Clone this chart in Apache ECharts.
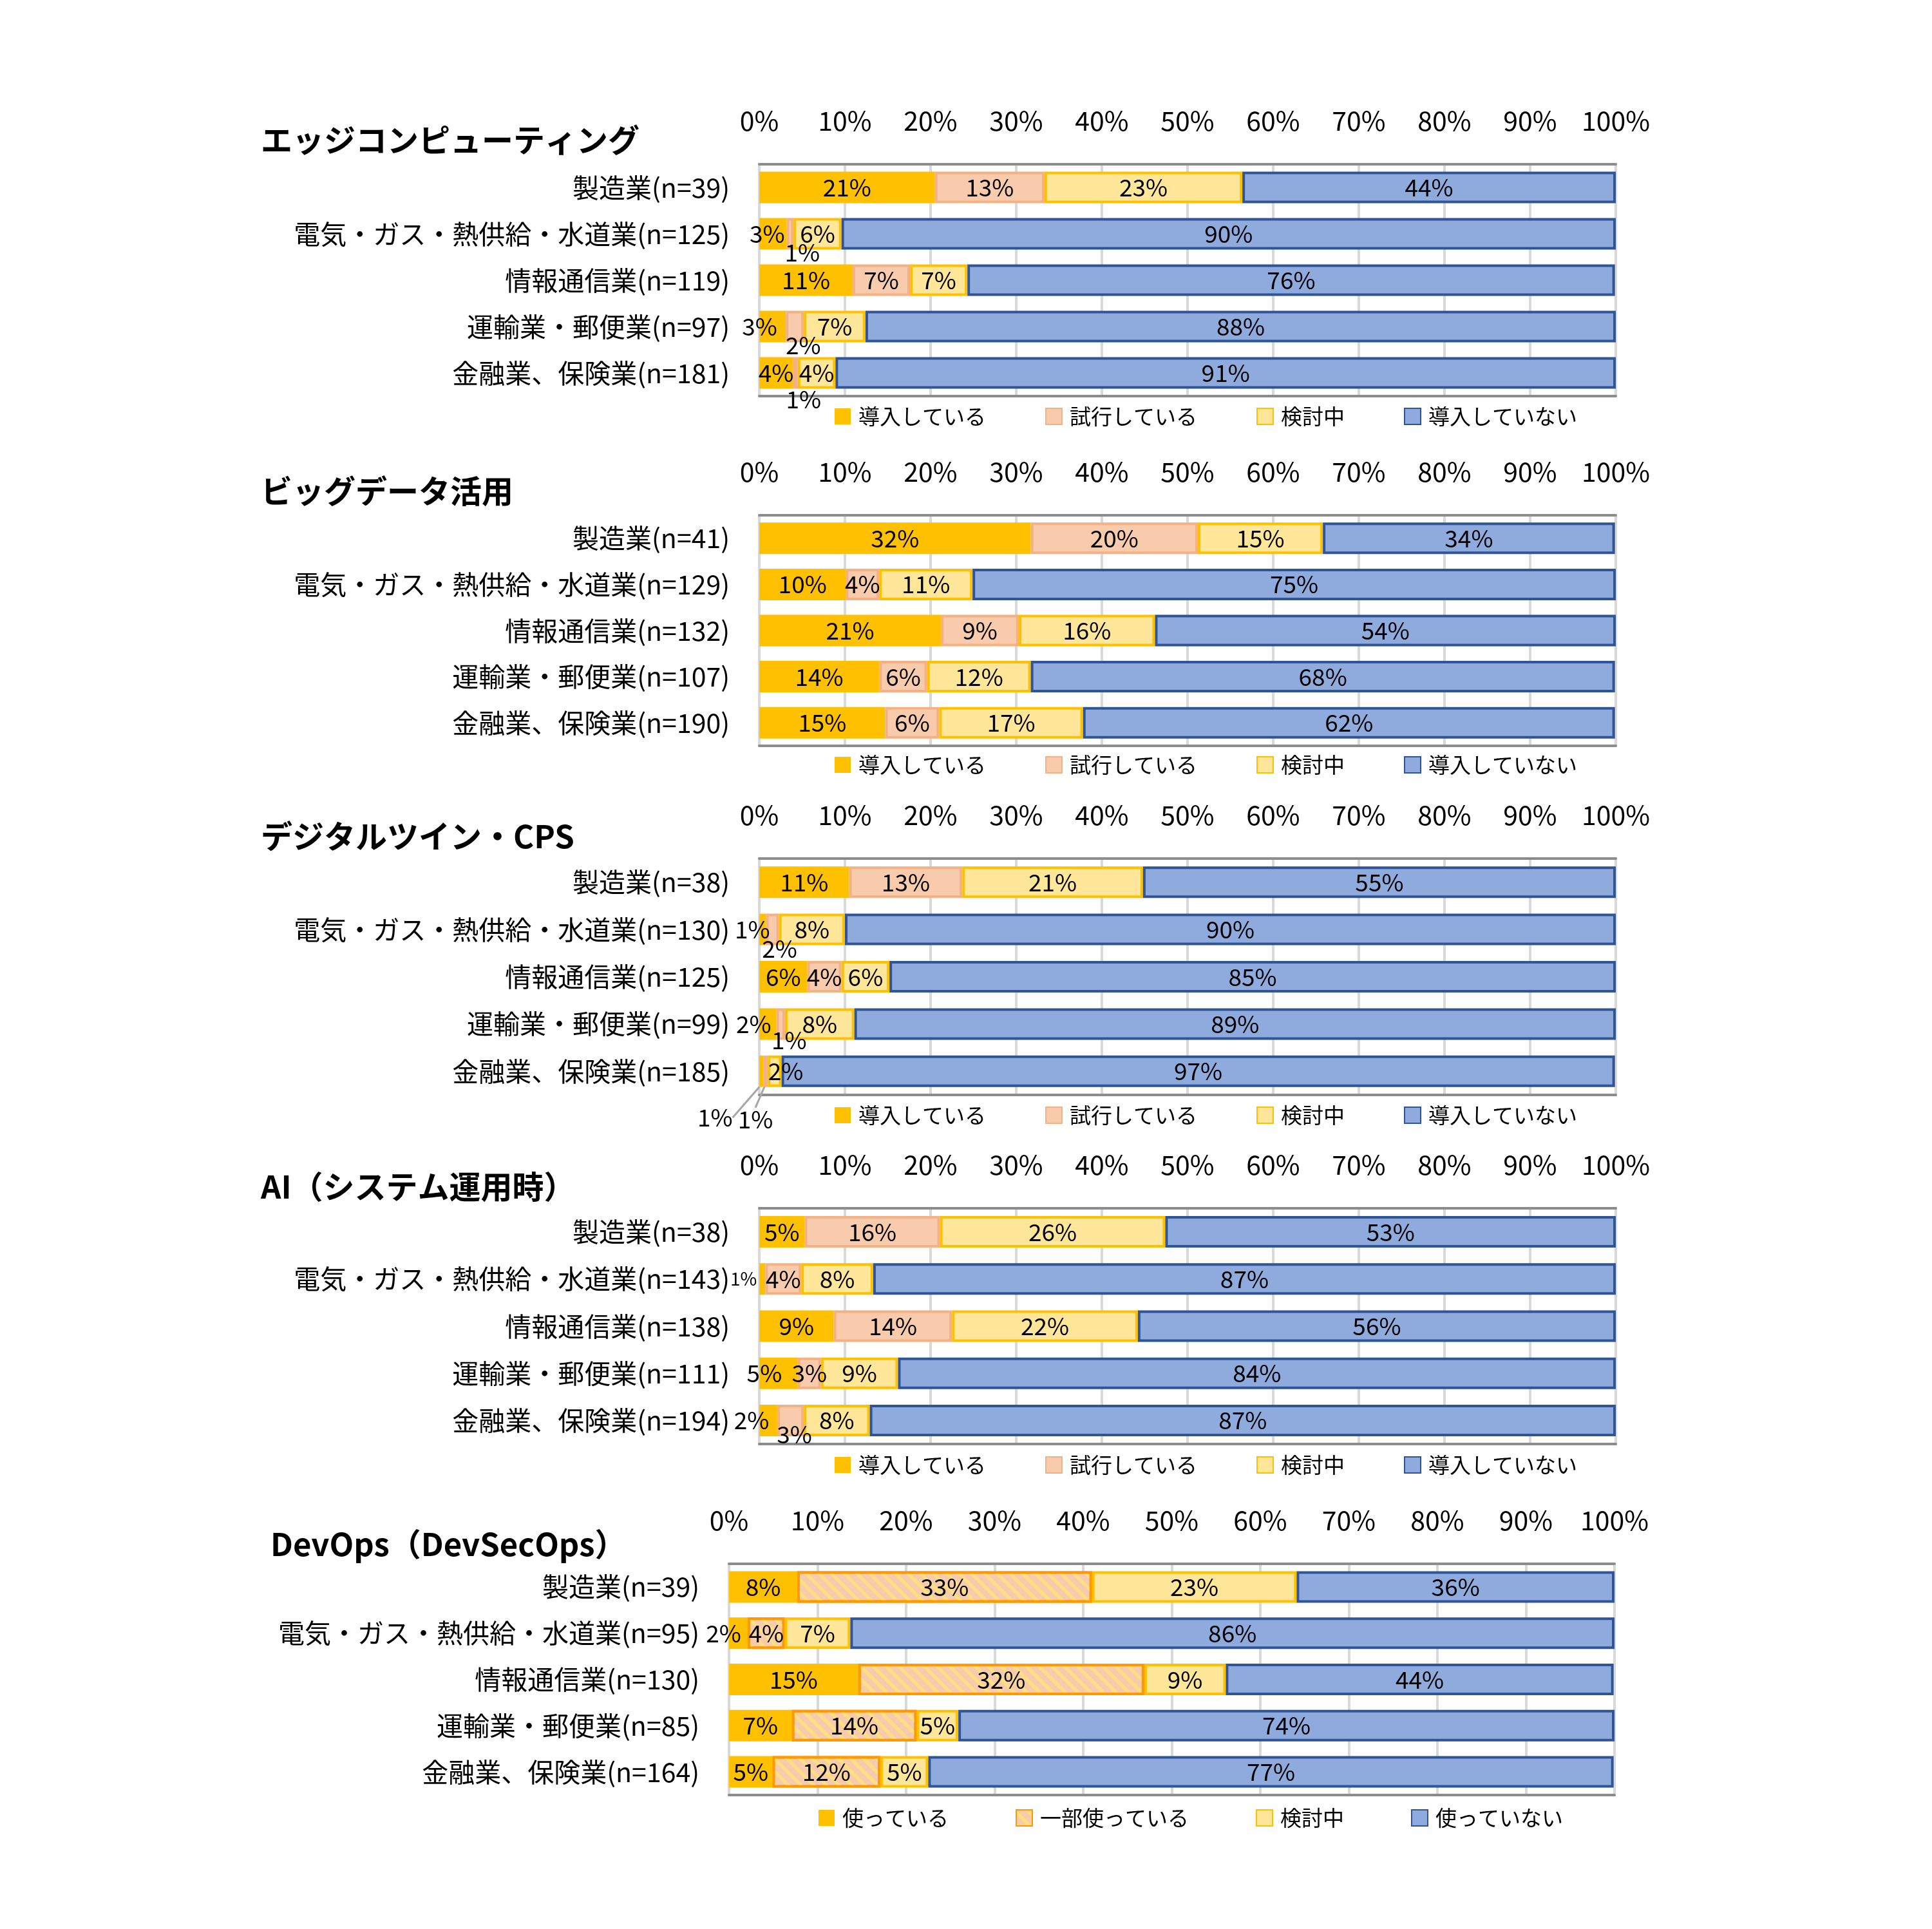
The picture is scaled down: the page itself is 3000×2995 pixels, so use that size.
<!DOCTYPE html>
<html><head><meta charset="utf-8">
<script src="https://cdn.jsdelivr.net/npm/echarts@6/dist/echarts.min.js"></script>
<style>html,body{margin:0;padding:0;background:#fff}#c{width:3000px;height:2995px}</style>
</head><body><div id="c"></div>
<script>
// ---------- data ----------
const panelTitles = ['エッジコンピューティング', 'ビッグデータ活用', 'デジタルツイン・CPS', 'AI（システム運用時）', 'DevOps（DevSecOps）'];
const tickLabels = ['0%', '10%', '20%', '30%', '40%', '50%', '60%', '70%', '80%', '90%', '100%'];
const adoptNames = ['導入している', '試行している', '検討中', '導入していない'];
const useNames = ['使っている', '一部使っている', '検討中', '使っていない'];

const edgeCategories = ['製造業(n=39)', '電気・ガス・熱供給・水道業(n=125)', '情報通信業(n=119)', '運輸業・郵便業(n=97)', '金融業、保険業(n=181)'];
const edgeAdopted  = [20.5, 3.2, 10.9, 3.1, 3.9];
const edgeTrial    = [12.8, 0.8, 6.7, 2.1, 0.6];
const edgeConsider = [23.1, 5.6, 6.7, 7.2, 4.4];
const edgeNot      = [43.6, 90.4, 75.6, 87.6, 91.1];

const bigDataCategories = ['製造業(n=41)', '電気・ガス・熱供給・水道業(n=129)', '情報通信業(n=132)', '運輸業・郵便業(n=107)', '金融業、保険業(n=190)'];
const bigDataAdopted  = [31.7, 10.1, 21.2, 14.0, 14.7];
const bigDataTrial    = [19.5, 3.9, 9.1, 5.6, 6.3];
const bigDataConsider = [14.6, 10.9, 15.9, 12.1, 16.8];
const bigDataNot      = [34.1, 75.1, 53.8, 68.2, 62.1];

const twinCategories = ['製造業(n=38)', '電気・ガス・熱供給・水道業(n=130)', '情報通信業(n=125)', '運輸業・郵便業(n=99)', '金融業、保険業(n=185)'];
const twinAdopted  = [10.5, 0.8, 5.6, 2.0, 0.5];
const twinTrial    = [13.2, 1.5, 4.0, 1.0, 0.5];
const twinConsider = [21.1, 7.7, 5.6, 8.1, 1.6];
const twinNot      = [55.2, 90.0, 84.8, 88.9, 97.3];

const aiCategories = ['製造業(n=38)', '電気・ガス・熱供給・水道業(n=143)', '情報通信業(n=138)', '運輸業・郵便業(n=111)', '金融業、保険業(n=194)'];
const aiAdopted  = [5.3, 0.7, 8.7, 4.5, 2.1];
const aiTrial    = [15.8, 4.2, 13.8, 2.7, 3.1];
const aiConsider = [26.3, 8.4, 21.7, 9.0, 7.7];
const aiNot      = [52.6, 86.7, 55.8, 83.8, 87.1];

const devopsCategories = ['製造業(n=39)', '電気・ガス・熱供給・水道業(n=95)', '情報通信業(n=130)', '運輸業・郵便業(n=85)', '金融業、保険業(n=164)'];
const devopsUsing    = [7.7, 2.1, 14.6, 7.1, 4.9];
const devopsPartial  = [33.3, 4.2, 32.3, 14.1, 12.2];
const devopsConsider = [23.1, 7.4, 9.2, 4.7, 5.4];
const devopsNot      = [35.9, 86.3, 43.8, 74.1, 77.4];

// ---------- layout / style ----------
const FONT = 'Noto Sans CJK JP';
const layout = [
  {left: 1179, right: 491, top: 255, height: 360, titleLeft: 405, titleTop: 193, legendLeft: 1296, legendTop: 630, legendGap: 92},
  {left: 1179, right: 491, top: 800, height: 358, titleLeft: 405, titleTop: 738, legendLeft: 1296, legendTop: 1171, legendGap: 92},
  {left: 1179, right: 491, top: 1333, height: 367, titleLeft: 405, titleTop: 1274, legendLeft: 1296, legendTop: 1715, legendGap: 92},
  {left: 1179, right: 491, top: 1876, height: 366, titleLeft: 405, titleTop: 1818, legendLeft: 1296, legendTop: 2258, legendGap: 92},
  {left: 1132, right: 493, top: 2428, height: 359, titleLeft: 420, titleTop: 2373, legendLeft: 1271, legendTop: 2806, legendGap: 104}
];
const barStyles = [
  {color: '#FFC000', borderColor: '#FFC000', borderWidth: 0},
  {color: '#F8CBAD', borderColor: '#F4B183', borderWidth: 4},
  {color: '#FFE699', borderColor: '#FFC000', borderWidth: 4},
  {color: '#8FAADC', borderColor: '#2F5597', borderWidth: 4}
];
const partialStyle = {
  color: '#F8CBAD', borderColor: '#FF9900', borderWidth: 4,
  decal: {symbol: 'rect', symbolSize: 1, color: 'rgba(255,224,125,0.95)', dashArrayX: [1, 0], dashArrayY: [5, 9], rotation: Math.PI / 4}
};
// label nudges: "panel-status-row": [dx, dy, leaderLine, fontSize]
const labelTweaks = {
  '0-0-1': [-9, 0], '0-1-1': [19, 29], '0-0-3': [-20, 0], '0-1-3': [13, 29], '0-1-4': [13, 41, true],
  '2-0-1': [-16, 0], '2-1-1': [11, 30], '2-0-3': [-22, 0], '2-1-3': [13, 25],
  '2-0-4': [-72, 72, true], '2-1-4': [-16, 75, true], '2-2-4': [17, 0],
  '3-0-1': [-29, 0, false, 28], '3-0-3': [-22, 0], '3-0-4': [-26, 0], '3-1-4': [6, 22],
  '4-0-1': [-23, 0]
};

const panels = [
  {cats: edgeCategories, names: adoptNames, values: [edgeAdopted, edgeTrial, edgeConsider, edgeNot]},
  {cats: bigDataCategories, names: adoptNames, values: [bigDataAdopted, bigDataTrial, bigDataConsider, bigDataNot]},
  {cats: twinCategories, names: adoptNames, values: [twinAdopted, twinTrial, twinConsider, twinNot]},
  {cats: aiCategories, names: adoptNames, values: [aiAdopted, aiTrial, aiConsider, aiNot]},
  {cats: devopsCategories, names: useNames, values: [devopsUsing, devopsPartial, devopsConsider, devopsNot]}
];

const option = {
  animation: false,
  backgroundColor: '#fff',
  textStyle: {fontFamily: FONT, color: '#000'},
  title: [], legend: [], grid: [], xAxis: [], yAxis: [], series: []
};

panels.forEach((pn, p) => {
  const L = layout[p];
  option.title.push({
    text: panelTitles[p], left: L.titleLeft, top: L.titleTop, padding: 0,
    textStyle: {fontFamily: FONT, fontSize: 49, fontWeight: 'bold', color: '#000'}
  });
  option.legend.push({
    data: pn.names, left: L.legendLeft, top: L.legendTop, padding: 0,
    itemGap: L.legendGap, itemWidth: 25, itemHeight: 25, icon: 'rect', selectedMode: false,
    textStyle: {fontFamily: FONT, fontSize: 33, color: '#000', padding: [0, 0, 0, 7]}
  });
  option.grid.push({
    left: L.left, right: L.right, top: L.top, height: L.height,
    show: true, borderColor: '#D9D9D9', borderWidth: 4, backgroundColor: 'transparent'
  });
  option.xAxis.push({
    gridIndex: p, type: 'value', position: 'top', min: 0, max: 100, interval: 10,
    axisLine: {show: true, lineStyle: {color: '#8C8C8C', width: 4}},
    axisTick: {show: false},
    splitLine: {show: true, lineStyle: {color: '#D9D9D9', width: 4}},
    axisLabel: {margin: 47, fontSize: 41, color: '#000', fontFamily: FONT,
      formatter: v => tickLabels[Math.round(v / 10)]}
  });
  option.xAxis.push({
    gridIndex: p, type: 'value', position: 'bottom', min: 0, max: 100,
    axisLine: {show: true, lineStyle: {color: '#8C8C8C', width: 4}},
    axisTick: {show: false}, splitLine: {show: false}, axisLabel: {show: false}
  });
  option.yAxis.push({
    gridIndex: p, type: 'category', data: pn.cats, inverse: true,
    axisLine: {show: false}, axisTick: {show: false}, splitLine: {show: false},
    axisLabel: {margin: 46, fontSize: 41, color: '#000', fontFamily: FONT}
  });
  pn.values.forEach((vals, s) => {
    const style = (p === 4 && s === 1) ? partialStyle : barStyles[s];
    option.series.push({
      type: 'bar', name: pn.names[s], stack: 'p' + p,
      xAxisIndex: p * 2, yAxisIndex: p, barWidth: 49,
      itemStyle: style,
      emphasis: {disabled: true},
      label: {show: true, position: 'inside', fontSize: 37, color: '#000', fontFamily: FONT,
        formatter: d => Math.round(d.value) + '%'},
      labelLine: {show: false, lineStyle: {color: '#A6A6A6', width: 3}},
      labelLayout: prm => {
        const t = labelTweaks[p + '-' + s + '-' + prm.dataIndex];
        return t ? {dx: t[0], dy: t[1]} : {};
      },
      data: vals.map((v, i) => {
        const t = labelTweaks[p + '-' + s + '-' + i];
        const item = {value: v};
        if (t && t[2]) item.labelLine = {show: true, lineStyle: {color: '#A6A6A6', width: 3}};
        if (t && t[3]) item.label = {fontSize: t[3]};
        return item;
      })
    });
  });
});

const chart = echarts.init(document.getElementById('c'));
chart.setOption(option);
</script>
</body></html>
